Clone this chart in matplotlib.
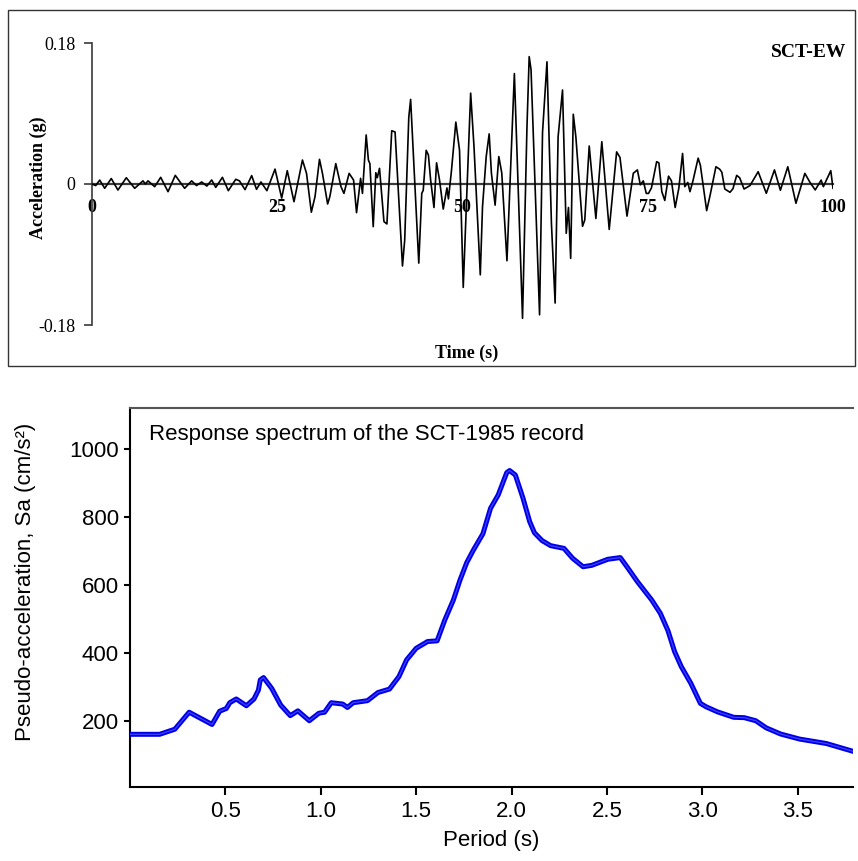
import matplotlib
matplotlib.use('Agg')
import matplotlib.pyplot as plt
from matplotlib.patches import Rectangle

# accelerogram SCT-EW, peaks/troughs
t_acc = [0, 0.5, 1.04, 1.71, 2.6, 3.5, 4.63, 5.76, 6.88, 7.2, 7.56, 8.46, 9.27, 10.26,
         11.24, 12.5, 13.45, 14.1, 14.8, 15.5, 16.15, 16.7, 17.6, 18.4, 19.4, 19.9,
         20.65, 21.55, 22.2, 22.8, 23.6, 24.7, 25.6, 26.35, 27.26, 28.4, 28.95, 29.6,
         30.1, 30.7, 31.1, 31.8, 32.1, 32.9, 33.6, 34.0, 34.7, 35.3, 35.7, 36.25, 36.5,
         37.0, 37.3, 37.5, 37.95, 38.3, 38.5, 38.8, 39.4, 39.8, 40.45, 40.9, 41.9, 42.2,
         42.75, 43.0, 43.7, 44.1, 44.5, 44.7, 45.1, 45.4, 45.7, 46.15, 46.5, 46.9, 47.4,
         47.9, 48.1, 48.5, 49.1, 49.6, 50.1, 51.1, 51.55, 52.4, 52.7, 53.2, 53.6, 53.9,
         54.4, 54.9, 55.3, 56.0, 57.0, 58.1, 58.7, 59.0, 59.25, 60.4, 60.8, 61.4, 62.0,
         62.5, 62.9, 63.5, 64.0, 64.3, 64.6, 64.95, 65.3, 66.2, 66.5, 67.1, 68.0, 68.8,
         69.8, 70.8, 71.25, 72.2, 73.05, 73.6, 74.0, 74.4, 74.8, 75.1, 75.5, 76.2, 76.5,
         76.9, 77.3, 77.8, 78.2, 78.7, 79.2, 79.7, 80.0, 80.4, 80.7, 81.1, 81.8, 82.1,
         82.95, 83.4, 84.2, 84.7, 85.0, 85.4, 86.1, 86.5, 87.0, 87.4, 88.0, 88.8, 89.9,
         91.0, 92.1, 92.9, 93.9, 95.0, 96.2, 96.9, 97.6, 98.4, 98.7, 99.7, 100]
a_acc = [0, -0.002, 0.005, -0.0055, 0.007, -0.0077, 0.008, -0.0055, 0.004, 0.0, 0.004,
         -0.0034, 0.0085, -0.0098, 0.011, -0.0055, 0.004, -0.002, 0.0026, -0.0026, 0.0051,
         -0.0043, 0.0085, -0.0085, 0.006, 0.004, -0.0072, 0.0107, -0.0068, 0.0026, -0.0085,
         0.019, -0.018, 0.017, -0.0226, 0.0306, 0.0136, -0.036, -0.016, 0.0315, 0.0136,
         -0.0255, -0.016, 0.026, -0.0034, -0.012, 0.0136, 0.005, -0.0366, 0.0072, -0.012,
         0.0626, 0.0306, 0.026, -0.0545, 0.0144, 0.008, 0.02, -0.048, -0.051, 0.068, 0.0664,
         -0.1047, -0.0715, 0.085, 0.108, -0.025, -0.101, -0.012, -0.008, 0.043, 0.037, 0.005,
         -0.030, 0.027, 0.005, -0.032, -0.005, -0.019, 0.016, 0.079, 0.043, -0.132, 0.116,
         0.048, -0.116, -0.029, 0.035, 0.064, 0.014, -0.027, 0.035, 0.014, -0.098, 0.141,
         -0.1715, 0.073, 0.1626, 0.146, -0.167, 0.0657, 0.156, -0.05, -0.152, 0.060, 0.120,
         -0.063, -0.03, -0.095, 0.089, 0.060, -0.054, -0.046, 0.0485, -0.044, 0.054, -0.058,
         0.041, 0.034, -0.041, 0.0137, 0.018, -0.001, 0.004, -0.012, -0.012, -0.005, 0.0285,
         0.027, -0.0098, -0.021, 0.010, 0.004, -0.030, -0.005, 0.039, -0.0034, 0.002,
         -0.0098, 0.004, 0.033, 0.024, -0.034, -0.015, 0.022, 0.019, 0.015, -0.0064,
         -0.0106, -0.006, 0.011, 0.008, -0.0064, -0.002, 0.0157, -0.0119, 0.018, -0.008,
         0.022, -0.0246, 0.0136, 0.002, -0.0076, 0.005, -0.0034, 0.017, -0.0055]

acc_yticks = [-0.18, 0, 0.18]
acc_ylabels = ['-0.18', '0', '0.18']
acc_xticks = [0, 25, 50, 75, 100]

# response spectrum
period = [0, 0.155, 0.235, 0.31, 0.43, 0.47, 0.505, 0.523, 0.557, 0.61, 0.65, 0.673,
          0.683, 0.70, 0.743, 0.79, 0.84, 0.88, 0.94, 0.99, 1.02, 1.055, 1.115, 1.14,
          1.17, 1.245, 1.30, 1.36, 1.41, 1.45, 1.50, 1.56, 1.61, 1.65, 1.695, 1.73,
          1.765, 1.80, 1.85, 1.89, 1.93, 1.975, 1.99, 2.02, 2.06, 2.095, 2.12, 2.16,
          2.205, 2.275, 2.32, 2.375, 2.42, 2.505, 2.57, 2.605, 2.66, 2.735, 2.78, 2.82,
          2.855, 2.89, 2.94, 2.99, 3.02, 3.08, 3.165, 3.22, 3.28, 3.335, 3.41, 3.51,
          3.65, 3.79]
sa = [160, 160, 175, 225, 189, 228, 236, 253, 264, 244, 264, 290, 320, 327, 295, 246,
      215, 229, 200, 222, 225, 253, 249, 239, 253, 259, 283, 293, 330, 379, 413, 433,
      435, 496, 555, 614, 665, 702, 750, 825, 864, 930, 936, 923, 855, 786, 753, 730,
      715, 707, 678, 653, 657, 675, 680, 653, 609, 555, 516, 465, 403, 359, 310, 251,
      241, 226, 210, 209, 200, 179, 161, 146, 133, 110]
sa_xticks = [0.5, 1.0, 1.5, 2.0, 2.5, 3.0, 3.5]
sa_yticks = [200, 400, 600, 800, 1000]

fig = plt.figure(figsize=(8.58, 8.61), dpi=100)

# ---- top: accelerogram
serif = ['Liberation Serif', 'DejaVu Serif']
ax1 = fig.add_axes([92/858, 1-325/861, 741/858, 282/861])
ax1.plot(t_acc, a_acc, color='black', lw=1.2, solid_joinstyle='round', zorder=3)
ax1.set_xlim(0, 100)
ax1.set_ylim(-0.18, 0.18)
ax1.spines['top'].set_visible(False)
ax1.spines['right'].set_visible(False)
ax1.spines['bottom'].set_position(('data', 0))
ax1.spines['bottom'].set_color('#3a3a3a')
ax1.spines['bottom'].set_linewidth(1.6)
ax1.spines['left'].set_color('#3a3a3a')
ax1.spines['left'].set_linewidth(1.2)
ax1.set_yticks(acc_yticks)
ax1.set_yticklabels(acc_ylabels, family=serif, fontsize=13)
ax1.tick_params(axis='y', direction='out', length=6, width=1.2, color='#3a3a3a', pad=6)
ax1.set_xticks(acc_xticks)
ax1.set_xticklabels([str(v) for v in acc_xticks], family=serif, fontsize=13,
                    fontweight='bold')
ax1.tick_params(axis='x', length=0, pad=11)
ax1.text(1.0175, 0.965, 'SCT-EW', transform=ax1.transAxes, ha='right', va='center',
         family=serif, fontsize=14, fontweight='bold')
fig.text(38/858, 1-178/861, 'Acceleration (g)', rotation=90, ha='center', va='center',
         family=serif, fontsize=13, fontweight='bold')
fig.text(467/858, 1-353/861, 'Time (s)', ha='center', va='center',
         family=serif, fontsize=13, fontweight='bold')
fig.add_artist(Rectangle((8/858, 1-366/861), 847/858, 356/861,
                         transform=fig.transFigure, fill=False, ec='#333333', lw=1.0))

# ---- bottom: response spectrum
sans = ['Liberation Sans', 'DejaVu Sans']
ax2 = fig.add_axes([130/858, 1-787/861, 723/858, 379/861])
ax2.plot(period, sa, color='#0000e8', lw=3.6, solid_joinstyle='round', zorder=3)
ax2.plot(period, sa, color='#4646ff', lw=0.8, zorder=4)
ax2.set_xlim(0, 3.79)
ax2.set_ylim(5, 1120)
ax2.spines['right'].set_visible(False)
ax2.spines['top'].set_color('#555555')
for s in ['left', 'bottom', 'top']:
    ax2.spines[s].set_linewidth(1.5)
ax2.set_xticks(sa_xticks)
ax2.set_xticklabels(['%.1f' % v for v in sa_xticks], family=sans, fontsize=16)
ax2.set_yticks(sa_yticks)
ax2.set_yticklabels([str(v) for v in sa_yticks], family=sans, fontsize=16)
ax2.tick_params(axis='x', direction='out', length=6, width=1.5, pad=4)
ax2.tick_params(axis='y', direction='out', length=4, width=1.5, pad=4)
ax2.set_xlabel('Period (s)', family=sans, fontsize=16, labelpad=6)
ax2.set_ylabel('Pseudo-acceleration, Sa (cm/s²)', family=sans, fontsize=16)
ax2.yaxis.set_label_coords(-0.13, 0.541)
ax2.text(0.026, 0.929, 'Response spectrum of the SCT-1985 record', transform=ax2.transAxes,
         ha='left', va='center', family=sans, fontsize=16)

plt.savefig('out.png', dpi=100)
